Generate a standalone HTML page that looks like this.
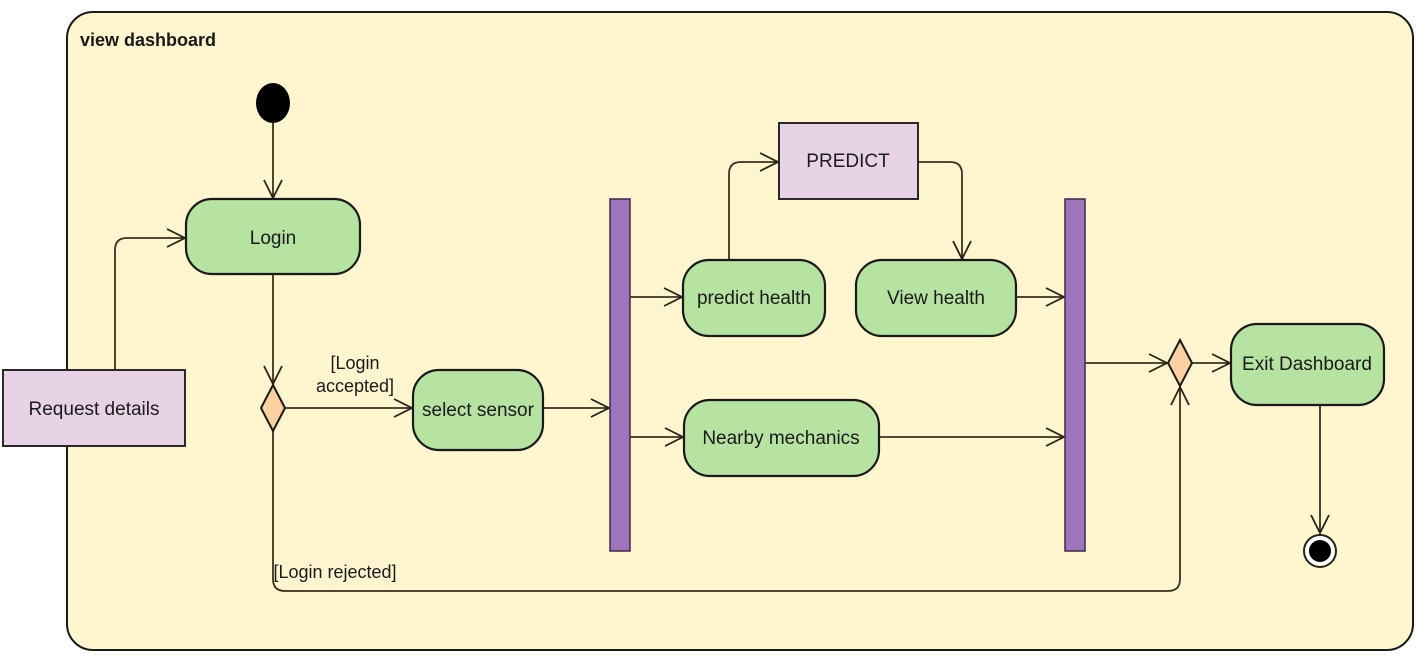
<!DOCTYPE html>
<html><head><meta charset="utf-8"><style>
html,body{margin:0;padding:0;background:#fff;}
svg{display:block;}
text{font-family:"Liberation Sans",Arial,sans-serif;fill:#1a1a1a;}
</style></head><body>
<svg width="1417" height="660" viewBox="0 0 1417 660" xmlns="http://www.w3.org/2000/svg">
<defs>
<marker id="a" markerWidth="24" markerHeight="24" refX="20" refY="11" orient="auto" markerUnits="userSpaceOnUse" viewBox="0 0 24 24">
<path d="M2,2 L20,11 L2,20" fill="none" stroke="#2a2218" stroke-width="1.8"/>
</marker>
</defs>
<rect x="67" y="12" width="1346" height="638" rx="26" fill="#fff5cf" stroke="#1a1a1a" stroke-width="2"/>
<text x="80" y="46" font-size="18" font-weight="bold" fill="#111">view dashboard</text>

<g fill="none" stroke="#3a3020" stroke-width="1.8">
<path d="M273,123 L273,198" marker-end="url(#a)"/>
<path d="M115,370 L115,250 Q115,238 127,238 L185,238" marker-end="url(#a)"/>
<path d="M273,274 L273,384" marker-end="url(#a)"/>
<path d="M285,408 L412,408" marker-end="url(#a)"/>
<path d="M543,408 L609,408" marker-end="url(#a)"/>
<path d="M630,297 L682,297" marker-end="url(#a)"/>
<path d="M630,437 L683,437" marker-end="url(#a)"/>
<path d="M729,260 L729,174 Q729,162 741,162 L778,162" marker-end="url(#a)"/>
<path d="M918,162 L950,162 Q962,162 962,174 L962,259" marker-end="url(#a)"/>
<path d="M1016,297 L1064,297" marker-end="url(#a)"/>
<path d="M879,437 L1064,437" marker-end="url(#a)"/>
<path d="M1085,363 L1167,363" marker-end="url(#a)"/>
<path d="M1192,363 L1230,363" marker-end="url(#a)"/>
<path d="M273,431 L273,579 Q273,591 285,591 L1168,591 Q1180,591 1180,579 L1180,387" marker-end="url(#a)"/>
<path d="M1320,405 L1320,533" marker-end="url(#a)"/>
</g>

<ellipse cx="273" cy="103" rx="17" ry="20" fill="#000"/>

<rect x="3" y="370" width="182" height="76" fill="#e8d2e6" stroke="#2a2a2a" stroke-width="2"/>
<text x="94" y="415" font-size="19" text-anchor="middle">Request details</text>

<rect x="186" y="199" width="174" height="75" rx="26" fill="#b6e2a2" stroke="#1a1a1a" stroke-width="2.2"/>
<text x="273" y="244" font-size="19" text-anchor="middle">Login</text>

<polygon points="273,385 285,408 273,431 261,408" fill="#fcd0a0" stroke="#1a1a1a" stroke-width="2"/>
<text x="355" y="369" font-size="18" text-anchor="middle">[Login</text>
<text x="355" y="392" font-size="18" text-anchor="middle">accepted]</text>

<rect x="413" y="370" width="130" height="80" rx="26" fill="#b6e2a2" stroke="#1a1a1a" stroke-width="2.2"/>
<text x="478" y="416" font-size="19" text-anchor="middle">select sensor</text>

<rect x="610" y="199" width="20" height="352" fill="#9e74ba" stroke="#3a2a4a" stroke-width="1.5"/>
<rect x="1065" y="199" width="20" height="352" fill="#9e74ba" stroke="#3a2a4a" stroke-width="1.5"/>

<rect x="683" y="260" width="142" height="76" rx="26" fill="#b6e2a2" stroke="#1a1a1a" stroke-width="2.2"/>
<text x="754" y="304" font-size="19" text-anchor="middle">predict health</text>

<rect x="779" y="123" width="139" height="76" fill="#e8d2e6" stroke="#2a2a2a" stroke-width="2"/>
<text x="848" y="167" font-size="19" text-anchor="middle" fill="#1e1e4a">PREDICT</text>

<rect x="856" y="260" width="160" height="76" rx="26" fill="#b6e2a2" stroke="#1a1a1a" stroke-width="2.2"/>
<text x="936" y="304" font-size="19" text-anchor="middle">View health</text>

<rect x="684" y="400" width="195" height="76" rx="26" fill="#b6e2a2" stroke="#1a1a1a" stroke-width="2.2"/>
<text x="781" y="444" font-size="19" text-anchor="middle">Nearby mechanics</text>

<polygon points="1180,340 1192,363 1180,386 1168,363" fill="#fcd0a0" stroke="#1a1a1a" stroke-width="2"/>

<rect x="1231" y="324" width="153" height="81" rx="26" fill="#b6e2a2" stroke="#1a1a1a" stroke-width="2.2"/>
<text x="1307" y="370" font-size="19" text-anchor="middle">Exit Dashboard</text>

<circle cx="1320" cy="551" r="16" fill="#fff" stroke="#2a2218" stroke-width="2"/>
<circle cx="1320" cy="551" r="11" fill="#000"/>

<text x="335" y="578" font-size="18" text-anchor="middle">[Login rejected]</text>
</svg>
</body></html>
